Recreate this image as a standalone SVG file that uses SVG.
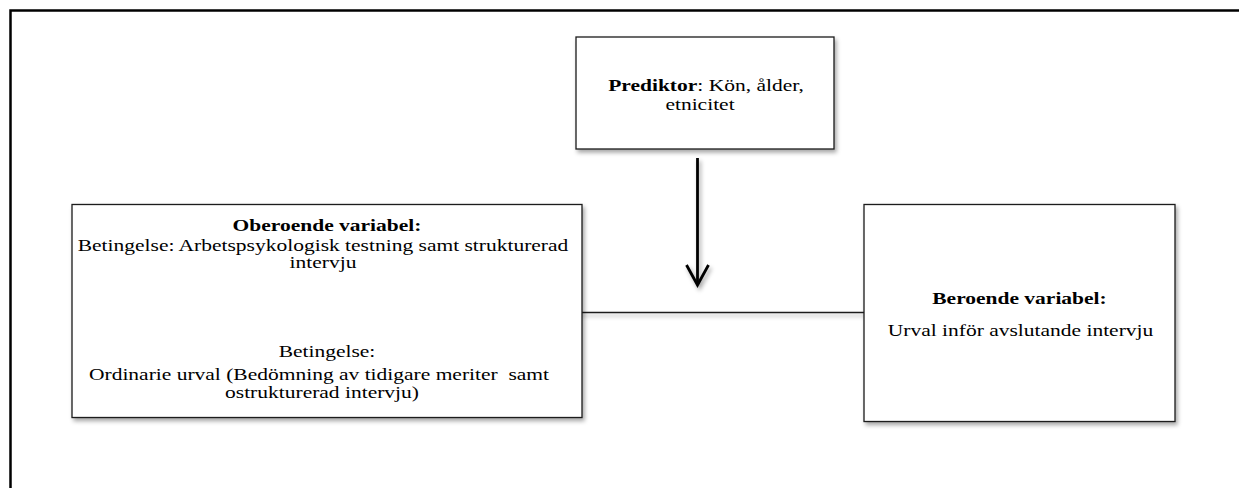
<svg xmlns="http://www.w3.org/2000/svg" width="1239" height="488" viewBox="0 0 1239 488">
<style>
.box{fill:#fff;stroke:#1a1a1a;stroke-width:1.3}
.t{font-family:"Liberation Serif","Times New Roman",serif;font-size:16.8px;fill:#000;text-anchor:middle}
.b{font-weight:bold}
.conn{stroke:#1a1a1a;stroke-width:1.3;fill:none}
.arr{stroke:#000;fill:none;stroke-width:2.8}
</style>
<defs>
<filter id="sh" x="-10%" y="-10%" width="130%" height="140%">
<feDropShadow dx="2" dy="3" stdDeviation="2" flood-color="#000" flood-opacity="0.35"/>
</filter>
</defs>
<rect width="1239" height="488" fill="#fff"/>
<path d="M10.5,488 V10.5 H1239" fill="none" stroke="#000" stroke-width="2.5"/>
<g id="connectors" filter="url(#sh)">
<line class="conn" x1="577" y1="312.5" x2="865" y2="312.5"/>
<line class="arr" x1="697.5" y1="158" x2="697.5" y2="284"/>
<path class="arr" d="M686.5,265 L697.5,285 L708.5,265" stroke-width="4.2" stroke-linejoin="miter"/>
</g>
<g id="prediktor">
<rect class="box" x="576" y="37" width="258" height="112" filter="url(#sh)"/>
<text class="t" transform="matrix(1.28 0 0 1 706 90.5)"><tspan class="b">Prediktor</tspan>: Kön, ålder,</text>
<text class="t" transform="matrix(1.28 0 0 1 700 109.5)">etnicitet</text>
</g>
<g id="oberoende">
<rect class="box" x="72" y="204.5" width="510" height="213" filter="url(#sh)"/>
<text class="t b" transform="matrix(1.28 0 0 1 327 231)">Oberoende variabel:</text>
<text class="t" transform="matrix(1.28 0 0 1 323 250.5)">Betingelse: Arbetspsykologisk testning samt strukturerad</text>
<text class="t" transform="matrix(1.28 0 0 1 323 268)">intervju</text>
<text class="t" transform="matrix(1.28 0 0 1 327 356.5)">Betingelse:</text>
<text class="t" xml:space="preserve" transform="matrix(1.28 0 0 1 319 379.5)">Ordinarie urval (Bedömning av tidigare meriter  samt</text>
<text class="t" transform="matrix(1.28 0 0 1 322 397.5)">ostrukturerad intervju)</text>
</g>
<g id="beroende">
<rect class="box" x="864" y="204.5" width="311" height="217" filter="url(#sh)"/>
<text class="t b" transform="matrix(1.28 0 0 1 1019.5 304)">Beroende variabel:</text>
<text class="t" transform="matrix(1.28 0 0 1 1020.5 336)">Urval inför avslutande intervju</text>
</g>
</svg>
